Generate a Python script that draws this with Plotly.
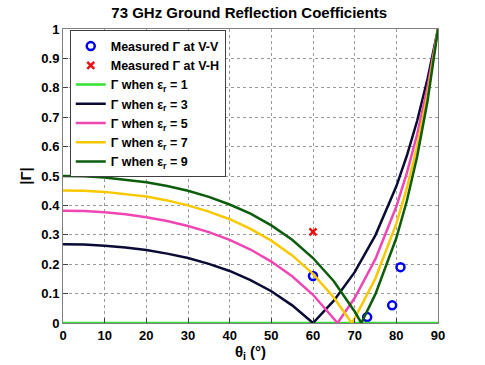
import plotly.graph_objects as go

# incidence angles (deg)
theta = [0, 5, 10, 15, 20, 25, 30, 35, 40, 45, 50, 55, 60, 65, 70, 75, 80, 82.5, 85, 87.5, 90]

# |Gamma| curves, one per permittivity
gam_er1 = [0] * len(theta)
gam_er3 = [0.268, 0.267, 0.263, 0.257, 0.248, 0.236, 0.221, 0.201, 0.177, 0.146, 0.108, 0.060, 0.0,
           0.076, 0.173, 0.299, 0.465, 0.568, 0.688, 0.831, 1.0]
th_er5 = theta[:14] + [65.9] + theta[14:]
gam_er5 = [0.382, 0.381, 0.377, 0.370, 0.360, 0.347, 0.330, 0.309, 0.283, 0.250, 0.209, 0.159, 0.096, 0.017,
           0.0, 0.085, 0.218, 0.396, 0.509, 0.642, 0.803, 1.0]
th_er7 = theta[:14] + [69.3] + theta[14:]
gam_er7 = [0.451, 0.450, 0.446, 0.439, 0.430, 0.417, 0.400, 0.379, 0.353, 0.320, 0.280, 0.230, 0.167, 0.087,
           0.0, 0.016, 0.152, 0.338, 0.457, 0.601, 0.778, 1.0]
th_er9 = theta[:15] + [71.6] + theta[15:]
gam_er9 = [0.500, 0.499, 0.495, 0.488, 0.479, 0.466, 0.450, 0.429, 0.403, 0.372, 0.332, 0.283, 0.221, 0.142,
           0.039, 0.0, 0.099, 0.289, 0.414, 0.566, 0.756, 1.0]

# measurements
vv_theta = [60, 73, 79, 81]
vv_gam = [0.16, 0.02, 0.06, 0.19]
vh_theta = [60]
vh_gam = [0.31]

fig = go.Figure()
fig.add_trace(go.Scatter(x=vv_theta, y=vv_gam, mode="markers", name="<b>Measured Γ at V-V</b>",
                         marker=dict(symbol="circle-open", size=8, color="#0000ee", line=dict(width=2.5))))
fig.add_trace(go.Scatter(x=vh_theta, y=vh_gam, mode="markers", name="<b>Measured Γ at V-H</b>",
                         marker=dict(symbol="x-thin-open", size=7, color="#ee1111", line=dict(width=2.5))))

curves = [
    ("1", theta, gam_er1, "#33e033"),
    ("3", theta, gam_er3, "#0a0a35"),
    ("5", th_er5, gam_er5, "#f046b4"),
    ("7", th_er7, gam_er7, "#f8c800"),
    ("9", th_er9, gam_er9, "#0b5c0b"),
]
for er, x, y, c in curves:
    fig.add_trace(go.Scatter(x=x, y=y, mode="lines", name="<b>Γ when ε<sub>r</sub> = " + er + "</b>",
                             line=dict(color=c, width=2.5)))

axis = dict(showline=True, linecolor="#808080", linewidth=1, mirror=True,
            ticks="inside", ticklen=5, tickcolor="#404040", automargin=False,
            showgrid=True, gridcolor="#9a9a9a", griddash="dot", gridwidth=1,
            zeroline=False, tickfont=dict(family="Arial", size=13, color="black", weight="bold"))

fig.update_layout(
    width=485, height=365,
    margin=dict(l=63, r=47, t=29, b=42),
    paper_bgcolor="white", plot_bgcolor="white",
    title=dict(text="<b>73 GHz Ground Reflection Coefficients</b>", x=0.514, xanchor="center",
               y=0.965, yanchor="middle", font=dict(family="Arial", size=15, color="black")),
    font=dict(family="Arial", color="black"),
    xaxis=dict(axis, range=[0, 90], dtick=10,
               title=dict(text="<b>θ<sub>i</sub> (°)</b>", standoff=3, font=dict(size=15))),
    yaxis=dict(axis, range=[0, 1], dtick=0.1,
               title=dict(text="<b>|Γ|</b>", standoff=6, font=dict(size=15))),
    legend=dict(x=0.018, y=0.995, xanchor="left", yanchor="top",
                bgcolor="white", bordercolor="#404040", borderwidth=1,
                font=dict(family="Arial", size=12.5, color="black"),
                tracegroupgap=0, itemwidth=30),
    showlegend=True,
)

# page body has a default 8px margin; drop it so the figure sits at the window origin
fig.write_html("out.html", config={"displayModeBar": False},
               post_script="document.body.style.margin = '0';")
